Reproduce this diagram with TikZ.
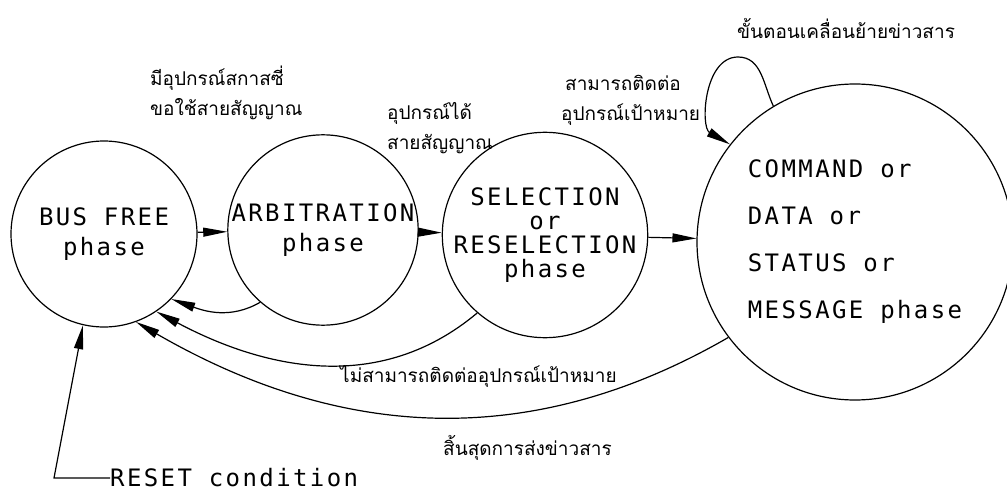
\documentclass[tikz,border=0pt]{standalone}
\usepackage{fontspec}
\newfontfamily\plotfont[LetterSpace=10]{DejaVu Sans Mono}
\newfontfamily\thaifont[Script=Thai]{Loma}
\usetikzlibrary{positioning,arrows.meta}
\tikzset{
  phaseArr/.style={-{Triangle[length=24pt,width=9pt]}, line width=1.2pt, draw=black},
  phaseCircle/.style={circle, draw=black, line width=1.2pt, align=center, inner sep=0pt,
    font=\plotfont\fontsize{24}{30}\selectfont},
  thaiLbl/.style={font=\thaifont\fontsize{19}{30}\selectfont, align=left, inner sep=0pt, anchor=west},
  plotLbl/.style={font=\plotfont\fontsize{24}{28}\selectfont, inner sep=0pt, anchor=west},
}

\begin{document}
\begin{tikzpicture}[x=1pt, y=-1pt]
  \useasboundingbox (0,0) rectangle (1007,492);

  % phases
  \node[phaseCircle, minimum size=186pt] (busfree) at (104,234) {BUS FREE\\phase};
  \node[phaseCircle, minimum size=188pt] (arb) at (323,230) {ARBITRATION\\phase};
  \node[phaseCircle, minimum size=192pt, font=\plotfont\fontsize{24}{24}\selectfont] (sel) at (545,235) {SELECTION\\or\\RESELECTION\\phase};
  \node[phaseCircle, minimum size=316pt, align=left, font=\plotfont\fontsize{24}{47}\selectfont] (xfer) at (855,242) {COMMAND or\\DATA or\\STATUS or\\MESSAGE phase};

  % labels
  \node[thaiLbl] (reqLbl) at (150,93) {มีอุปกรณ์สกาสซี่\\ขอใช้สายสัญญาณ};
  \node[thaiLbl] (gotLbl) at (387,128) {อุปกรณ์ได้\\สายสัญญาณ};
  \node[thaiLbl] (tgtLbl) at (561,100) {\hspace*{4pt}สามารถติดต่อ\\อุปกรณ์เป้าหมาย};
  \node[thaiLbl] (moveLbl) at (737,28) {ขั้นตอนเคลื่อนย้ายข่าวสาร};
  \node[thaiLbl] (failLbl) at (340,376) {ไม่สามารถติดต่ออุปกรณ์เป้าหมาย};
  \node[thaiLbl] (endLbl) at (443,448) {สิ้นสุดการส่งข่าวสาร};
  \node[plotLbl] (reset) at (110,478) {RESET condition};

  \coordinate (looptop) at (738,57);
  \coordinate (resetCorner) at (54,478);

  % forward path
  \draw[phaseArr] (busfree) -- (arb);
  \draw[phaseArr] (arb) -- (sel);
  \draw[phaseArr] (sel) -- (xfer);
  \draw[phaseArr] (xfer.121) to[out=115,in=0] (looptop) to[out=180,in=150] (xfer.142);

  % back to bus free
  \draw[phaseArr] (arb.-131) to[out=210,in=-20] (busfree.-44);
  \draw[phaseArr] (sel.-131) to[out=220,in=-28] (busfree.-56);
  \draw[phaseArr] (xfer.-143) to[out=210,in=-30] (busfree.-70);
  \draw[phaseArr] (reset.west) -- (resetCorner) -- (busfree.-103);
\end{tikzpicture}
\end{document}
